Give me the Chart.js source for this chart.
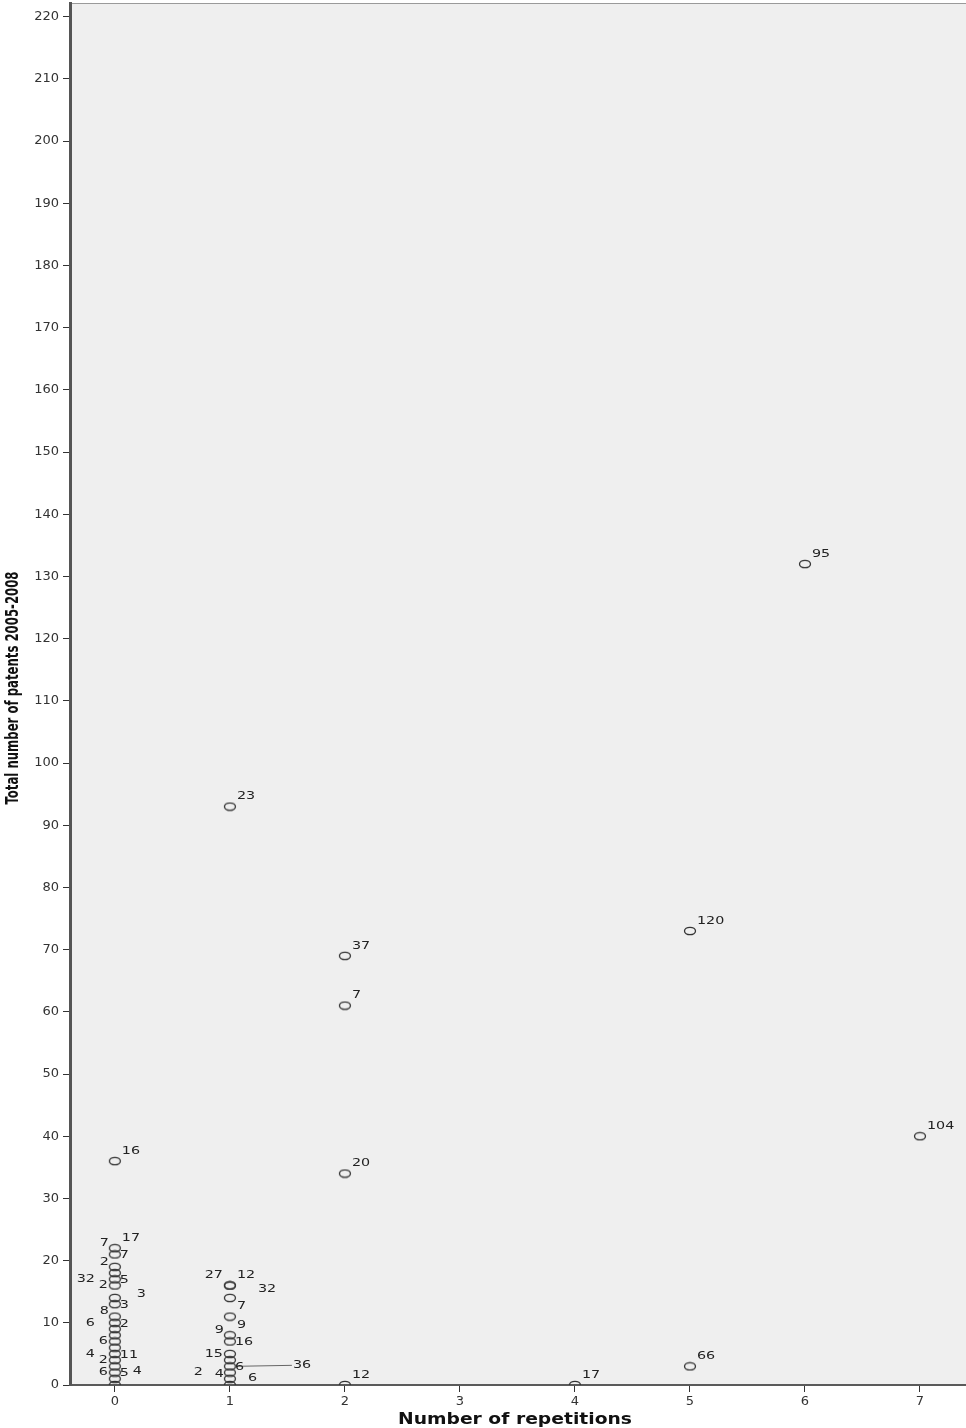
<!DOCTYPE html>
<html>
<head>
<meta charset="utf-8">
<script src="https://cdn.jsdelivr.net/npm/chart.js@4/dist/chart.umd.min.js"></script>
<style>
  html, body { margin: 0; padding: 0; background: #fff; overflow: hidden; }
  canvas { display: block; }
</style>
</head>
<body>
<canvas id="scatterChart" width="966" height="1428"></canvas>
<script>
const xTickValues = [0, 1, 2, 3, 4, 5, 6, 7];
const yTickValues = [0, 10, 20, 30, 40, 50, 60, 70, 80, 90, 100, 110,
  120, 130, 140, 150, 160, 170, 180, 190, 200, 210, 220];

// one entry per case: number of repetitions / total patents 2005-2008
const repetitions = [
  0, 0, 0, 0, 0, 0, 0, 0, 0, 0, 0, 0, 0, 0, 0, 0, 0, 0, 0, 0, 0,
  1, 1, 1, 1, 1, 1, 1, 1, 1, 1, 1, 1, 1,
  2, 2, 2, 2,
  4,
  5, 5,
  6,
  7
];
const patents = [
  0, 1, 2, 3, 4, 5, 6, 7, 8, 9, 10, 11, 13, 14, 16, 17, 18, 19, 21, 22, 36,
  0, 1, 2, 3, 4, 5, 7, 8, 11, 14, 16, 16, 93,
  0, 34, 61, 69,
  0,
  3, 73,
  132,
  40
];

// case labels: [repetitions, patents, text, placement]
const caseLabels = [
  [0, 22, "17", "tr"], [0, 22, "7", "tl"], [0, 21, "7", "r"],
  [0, 19, "2", "tl"], [0, 17, "32", "ll"], [0, 17, "5", "r"],
  [0, 16, "2", "l"], [0, 14, "3", "trr"], [0, 13, "3", "r"],
  [0, 11, "8", "tl"], [0, 10, "6", "ll"], [0, 10, "2", "r"],
  [0, 7, "6", "l"], [0, 5, "4", "ll"], [0, 4, "2", "l"],
  [0, 5, "11", "r"], [0, 2, "6", "l"], [0, 2, "5", "r"],
  [0, 2, "4", "rr"], [0, 36, "16", "tr"],
  [1, 16, "27", "tl2"], [1, 16, "12", "tr"], [1, 16, "32", "rrr"],
  [1, 11, "7", "tr"], [1, 8, "9", "tl"], [1, 8, "9", "tr"],
  [1, 7, "16", "r"], [1, 5, "15", "l"], [1, 3, "36", "line"],
  [1, 3, "6", "r"], [1, 2, "2", "lll"], [1, 1, "4", "tl"],
  [1, 1, "6", "rr"], [1, 93, "23", "tr"],
  [2, 69, "37", "tr"], [2, 61, "7", "tr"], [2, 34, "20", "tr"],
  [2, 0, "12", "tr"], [4, 0, "17", "tr"], [5, 3, "66", "tr"],
  [5, 73, "120", "tr"], [6, 132, "95", "tr"], [7, 40, "104", "tr"]
];

const placements = {
  tr:   { dx: 7,   dy: -10, align: 'left' },
  trr:  { dx: 22,  dy: -4,  align: 'left' },
  r:    { dx: 5,   dy: 1,   align: 'left' },
  rr:   { dx: 18,  dy: -1,  align: 'left' },
  rrr:  { dx: 28,  dy: 4,   align: 'left' },
  tl:   { dx: -6,  dy: -5,  align: 'right' },
  tl2:  { dx: -7,  dy: -10, align: 'right' },
  l:    { dx: -7,  dy: 0,   align: 'right' },
  ll:   { dx: -20, dy: 0,   align: 'right' },
  lll:  { dx: -27, dy: 0,   align: 'right' },
  line: { dx: 63,  dy: -1,  align: 'left' }
};

function ringMarker() {
  const c = document.createElement('canvas');
  c.width = 14; c.height = 10;
  const g = c.getContext('2d');
  g.strokeStyle = '#333';
  g.lineWidth = 1.3;
  g.beginPath();
  g.ellipse(7, 5, 5.5, 3.7, 0, 0, Math.PI * 2);
  g.stroke();
  return c;
}

// draw text stretched to a given length (the original export is squashed/stretched)
function fitText(ctx, text, x, y, len, rot) {
  const w = ctx.measureText(text).width;
  ctx.save();
  ctx.translate(x, y);
  if (rot) ctx.rotate(rot);
  ctx.scale(len / w, 1);
  ctx.fillText(text, 0, 0);
  ctx.restore();
}

const plotBackground = {
  id: 'plotBackground',
  beforeDraw(chart) {
    const { ctx, chartArea: a } = chart;
    ctx.save();
    ctx.fillStyle = '#fff';
    ctx.fillRect(0, 0, chart.width, chart.height);
    ctx.fillStyle = '#efefef';
    ctx.fillRect(a.left, a.top, a.right - a.left, a.bottom - a.top);
    ctx.strokeStyle = '#9a9a9a';
    ctx.lineWidth = 1;
    ctx.beginPath();
    ctx.moveTo(a.left, a.top + 0.5);
    ctx.lineTo(a.right, a.top + 0.5);
    ctx.stroke();
    ctx.restore();
  }
};

const caseLabelPlugin = {
  id: 'caseLabels',
  afterDatasetsDraw(chart) {
    const { ctx } = chart;
    const xs = chart.scales.x, ys = chart.scales.y;
    ctx.save();
    ctx.font = '11px "DejaVu Sans", sans-serif';
    ctx.fillStyle = '#222';
    ctx.textBaseline = 'middle';
    caseLabels.forEach(([rx, py, text, side]) => {
      const p = placements[side];
      const px = xs.getPixelForValue(rx);
      const pyPix = ys.getPixelForValue(py);
      if (side === 'line') {
        ctx.strokeStyle = '#666';
        ctx.lineWidth = 1;
        ctx.beginPath();
        ctx.moveTo(px + 5, pyPix);
        ctx.lineTo(px + p.dx - 1, pyPix + p.dy);
        ctx.stroke();
      }
      ctx.textAlign = p.align;
      ctx.save();
      ctx.translate(px + p.dx, pyPix + p.dy);
      ctx.scale(1.3, 1);
      ctx.fillText(text, 0, 0);
      ctx.restore();
    });
    ctx.restore();
  }
};

const axisTitles = {
  id: 'axisTitles',
  afterDraw(chart) {
    const { ctx } = chart;
    ctx.save();
    ctx.fillStyle = '#111';
    ctx.textAlign = 'center';
    ctx.textBaseline = 'middle';
    ctx.font = 'bold 17px "DejaVu Sans Condensed", "DejaVu Sans", sans-serif';
    fitText(ctx, 'Total number of patents 2005-2008', 14, 688, 233, -Math.PI / 2);
    ctx.textBaseline = 'alphabetic';
    ctx.font = 'bold 15px "DejaVu Sans", sans-serif';
    fitText(ctx, 'Number of repetitions', 515, 1424, 234, 0);
    ctx.restore();
  }
};

const points = repetitions.map((r, i) => ({ x: r, y: patents[i] }));

new Chart(document.getElementById('scatterChart'), {
  type: 'scatter',
  data: {
    datasets: [{
      data: points,
      pointStyle: ringMarker(),
      pointRadius: 5,
      clip: 0
    }]
  },
  options: {
    responsive: false,
    animation: false,
    events: [],
    layout: { autoPadding: false, padding: { top: 3, right: 0, left: 0, bottom: 0 } },
    plugins: {
      legend: { display: false },
      tooltip: { enabled: false }
    },
    scales: {
      x: {
        type: 'linear',
        min: -0.39,
        max: 7.4,
        afterBuildTicks: s => { s.ticks = xTickValues.map(v => ({ value: v })); },
        afterFit: s => {
          s.height = 43;
          s.paddingLeft = 0; s.paddingRight = 0; s.paddingTop = 0; s.paddingBottom = 0;
        },
        ticks: {
          color: '#333',
          font: { family: '"DejaVu Sans", sans-serif', size: 13 },
          padding: 2,
          maxRotation: 0,
          autoSkip: false
        },
        grid: { drawOnChartArea: false, drawTicks: true, tickLength: 7, color: '#333' },
        border: { display: true, color: '#5a5a5a', width: 2 }
      },
      y: {
        type: 'linear',
        min: 0,
        max: 222.2,
        afterBuildTicks: s => { s.ticks = yTickValues.map(v => ({ value: v })); },
        afterFit: s => {
          s.width = 70;
          s.paddingLeft = 0; s.paddingRight = 0; s.paddingTop = 0; s.paddingBottom = 0;
        },
        ticks: {
          color: '#333',
          font: { family: '"DejaVu Sans", sans-serif', size: 13 },
          padding: 4,
          autoSkip: false
        },
        grid: { drawOnChartArea: false, drawTicks: true, tickLength: 7, color: '#333' },
        border: { display: true, color: '#555', width: 3 }
      }
    }
  },
  plugins: [plotBackground, caseLabelPlugin, axisTitles]
});
</script>
</body>
</html>
